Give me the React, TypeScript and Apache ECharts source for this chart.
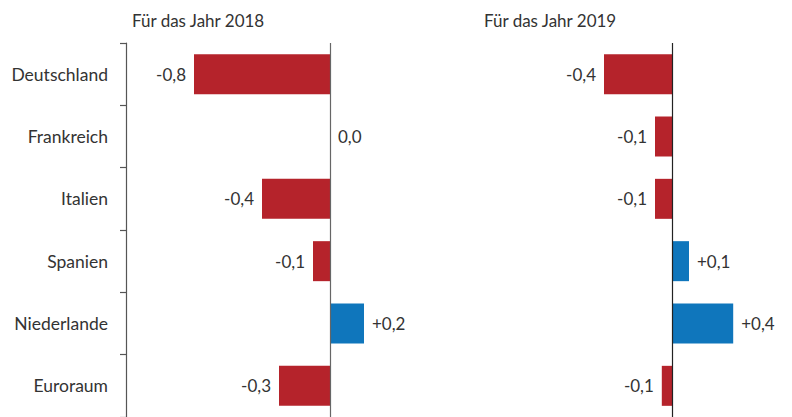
import React, { useEffect, useRef } from "react";
import * as echarts from "echarts";

const categories = ["Deutschland", "Frankreich", "Italien", "Spanien", "Niederlande", "Euroraum"];
const values2018 = [-0.8, 0.0, -0.4, -0.1, 0.2, -0.3];
const values2019 = [-0.4, -0.1, -0.1, 0.1, 0.36, -0.06];
const titles = ["Für das Jahr 2018", "Für das Jahr 2019"];

const RED = "#B5232B";
const BLUE = "#0F76BC";
const TEXT = "#333333";
const FONT = "Lato, 'Noto Sans', sans-serif";

function fmt(v: number): string {
  const s = Math.abs(v).toFixed(1).replace(".", ",");
  if (s === "0,0") return "0,0";
  return (v > 0 ? "+" : "-") + s;
}

function buildData(vals: number[]) {
  return vals.map((v) => ({
    value: v,
    itemStyle: { color: v < 0 ? RED : BLUE },
    label: { position: v < 0 ? "left" : "right" },
  }));
}

export default function App() {
  const ref = useRef<HTMLDivElement>(null);
  useEffect(() => {
    if (!ref.current) return;
    const chart = echarts.init(ref.current, null, { renderer: "svg" });
    const labelCfg = {
      show: true,
      distance: 8,
      fontSize: 17,
      color: TEXT,
      fontFamily: FONT,
      formatter: (p: any) => fmt(p.value),
    };
    const markLine = (color: string) => ({
      silent: true,
      symbol: "none",
      label: { show: false },
      lineStyle: { color, width: 1.2, type: "solid" },
      data: [{ xAxis: 0 }],
    });
    chart.setOption({
      animation: false,
      textStyle: { fontFamily: FONT },
      grid: [
        { left: 126, top: 43, width: 306, height: 377 },
        { left: 468, top: 43, width: 306, height: 377 },
      ],
      xAxis: [
        { type: "value", gridIndex: 0, min: -1.2, max: 0.6, show: false, splitLine: { show: false } },
        { type: "value", gridIndex: 1, min: -1.2, max: 0.6, show: false, splitLine: { show: false } },
      ],
      yAxis: [
        {
          type: "category",
          gridIndex: 0,
          data: categories,
          inverse: true,
          axisLine: { show: true, onZero: false, lineStyle: { color: "#555", width: 1.2 } },
          axisTick: { show: true, inside: false, length: 6, lineStyle: { color: "#555", width: 1.2 } },
          axisLabel: { fontSize: 17.5, color: TEXT, margin: 18, fontFamily: FONT },
        },
        {
          type: "category",
          gridIndex: 1,
          data: categories,
          inverse: true,
          show: false,
        },
      ],
      graphic: [
        {
          type: "text",
          x: 132,
          y: 20,
          style: { text: titles[0], fontSize: 17, fill: TEXT, fontFamily: FONT, verticalAlign: "middle" },
        },
        {
          type: "text",
          x: 484,
          y: 20,
          style: { text: titles[1], fontSize: 17, fill: TEXT, fontFamily: FONT, verticalAlign: "middle" },
        },
      ],
      series: [
        {
          type: "bar",
          xAxisIndex: 0,
          yAxisIndex: 0,
          barWidth: 40,
          data: buildData(values2018),
          label: labelCfg,
          markLine: markLine("#666"),
        },
        {
          type: "bar",
          xAxisIndex: 1,
          yAxisIndex: 1,
          barWidth: 40,
          data: buildData(values2019),
          label: labelCfg,
          markLine: markLine("#222"),
        },
      ],
    });
    return () => chart.dispose();
  }, []);
  return (
    <div
      ref={ref}
      style={{ position: "absolute", left: 0, top: 0, width: 792, height: 417, background: "#fff" }}
    />
  );
}
